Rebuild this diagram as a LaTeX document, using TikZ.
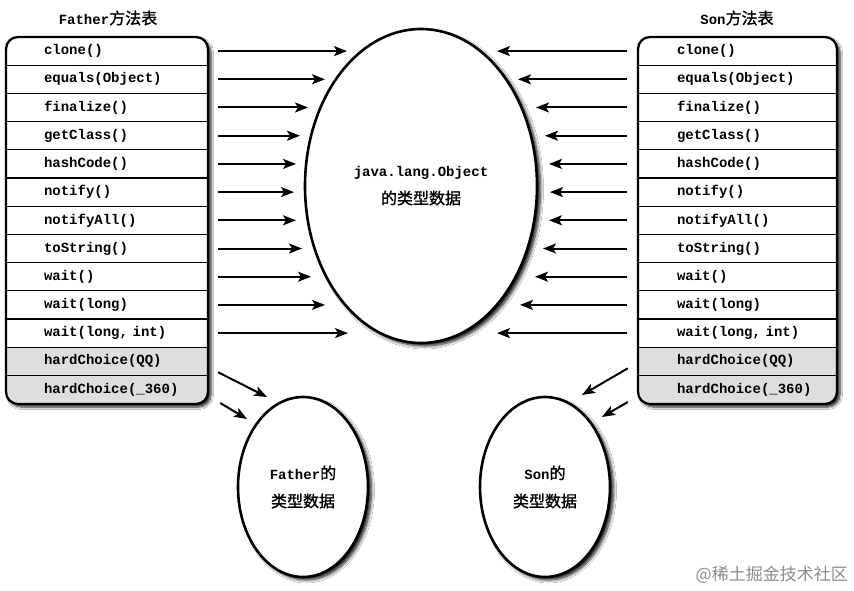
\documentclass[tikz,border=0pt]{standalone}
\usepackage{fontspec}
\setmonofont{Liberation Mono}
\newfontfamily\cjk[FakeBold=1.2]{Noto Sans CJK SC}
\newfontfamily\cjkwm{Noto Sans CJK SC}
\newcommand{\cj}[1]{{\cjk\mdseries\fontsize{16}{16}\selectfont #1}}
\usetikzlibrary{shapes.geometric,arrows.meta,shadows.blur}
\tikzset{
  mono/.style={font=\ttfamily\bfseries\fontsize{14}{16}\selectfont},
  rowcell/.style={mono,inner sep=0pt,align=left,minimum height=28.2pt},
  rowL/.style={rowcell,text width=202pt},
  rowR/.style={rowcell,text width=199pt},
  tablebg/.style={fill=white,rounded corners=12pt,
    blur shadow={shadow xshift=3pt,shadow yshift=-3pt,shadow blur radius=2.5pt,shadow blur steps=6,shadow opacity=85}},
  tableframe/.style={draw=black,line width=2.3pt,rounded corners=12pt},
  sep/.style={draw=black,line width=1.3pt},
  greyrow/.style={fill=black!13},
  arr/.style={draw=black,line width=2pt,-{Stealth[length=13pt,width=10pt,inset=3pt]}},
  ell/.style={ellipse,draw=black,line width=2.6pt,fill=white,inner sep=0pt,align=center,
    blur shadow={shadow xshift=3.5pt,shadow yshift=-3pt,shadow blur radius=3pt,shadow blur steps=6,shadow opacity=90}},
  title/.style={mono,inner sep=0pt}
}
\begin{document}
\begin{tikzpicture}[x=1pt,y=-1pt]
\useasboundingbox (0,0) rectangle (854,591);
\fill[white] (0,0) rectangle (854,591);

% titles
\node[title] (tl) at (108,18) {Father\cj{方法表}};
\node[title] (tr) at (737,18) {Son\cj{方法表}};

% left table
\path[tablebg] (6,37) rectangle (208,404);
\begin{scope}
  \clip[rounded corners=12pt] (6,37) rectangle (208,404);
  \fill[greyrow] (6,347.6) rectangle (208,404);
\end{scope}
\foreach \k in {1,...,12} { \draw[sep] (6,37+28.2*\k) -- (208,37+28.2*\k); }
\path[tableframe] (6,37) rectangle (208,404);

% right table
\path[tablebg] (638,37) rectangle (837,404);
\begin{scope}
  \clip[rounded corners=12pt] (638,37) rectangle (837,404);
  \fill[greyrow] (638,347.6) rectangle (837,404);
\end{scope}
\foreach \k in {1,...,12} { \draw[sep] (638,37+28.2*\k) -- (837,37+28.2*\k); }
\path[tableframe] (638,37) rectangle (837,404);

% rows
\def\methods{clone(),equals(Object),finalize(),getClass(),hashCode(),notify(),notifyAll(),toString(),wait(),wait(long),{wait(long, int)},hardChoice(QQ),hardChoice(\_360)}
\foreach \t [count=\k] in \methods {
  \node[rowL] (L\k) at (107,51.1+28.2*\k-28.2) {\hspace*{38pt}\t};
  \node[rowR] (R\k) at (737.5,51.1+28.2*\k-28.2) {\hspace*{39pt}\t};
}

% ellipses
\node[ell,mono,minimum width=232pt,minimum height=314pt] (obj) at (421,186)
  {java.lang.Object\\[10pt]\cj{的类型数据}};
\node[ell,mono,minimum width=130pt,minimum height=180pt] (fa) at (303,487)
  {Father\cj{的}\\[12pt]\cj{类型数据}};
\node[ell,mono,minimum width=130pt,minimum height=180pt] (so) at (545,487)
  {Son\cj{的}\\[12pt]\cj{类型数据}};

% arrows into the Object ellipse
\foreach \k/\xl/\xr in {1/347/497,2/325/518,3/308/536,4/300/545,5/296/549,6/294/550,7/296/549,8/302/543,9/311/535,10/325/520,11/348/497} {
  \coordinate (AL\k) at (\xl,51.1+28.2*\k-28.2);
  \coordinate (AR\k) at (\xr,51.1+28.2*\k-28.2);
  \draw[arr] ([xshift=10pt]L\k.east) -- (AL\k);
  \draw[arr] ([xshift=-11pt]R\k.west) -- (AR\k);
}

% arrows to Father / Son
\coordinate (F1) at (267,397);
\coordinate (F2) at (247,419);
\coordinate (S1) at (582,395);
\coordinate (S2) at (602,417);
\draw[arr] ([xshift=10pt,yshift=-11pt]L12.east) -- (F1);
\draw[arr] ([xshift=12pt,yshift=-13.5pt]L13.east) -- (F2);
\draw[arr] ([xshift=-10pt,yshift=-7pt]R12.west) -- (S1);
\draw[arr] ([xshift=-10pt,yshift=-12.5pt]R13.west) -- (S2);

% watermark
\node[anchor=east,text=black!45,inner sep=0pt,font=\cjkwm\fontsize{17}{17}\selectfont] (wm) at (848,575) {@稀土掘金技术社区};
\end{tikzpicture}
\end{document}
